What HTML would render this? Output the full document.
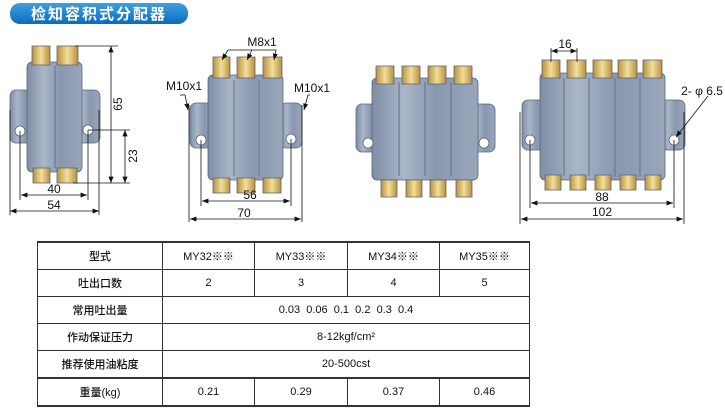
<!DOCTYPE html>
<html><head><meta charset="utf-8"><style>
body{margin:0;width:725px;height:413px;background:#fff;overflow:hidden;position:relative;font-family:"Liberation Sans","Noto Sans CJK SC",sans-serif}
svg{position:absolute;left:0;top:0}
table{position:absolute;left:37px;top:241px;border-collapse:collapse;font-size:11px;color:#111;font-weight:500}
td{border:1px solid #333;text-align:center;padding:0;height:26px}
</style></head><body>
<svg width="725" height="413" viewBox="0 0 725 413">
<defs>
<linearGradient id="pill" x1="0" y1="0" x2="0" y2="1"><stop offset="0" stop-color="#3ea0e0"/><stop offset="1" stop-color="#0a6cc0"/></linearGradient>
<linearGradient id="body" x1="0" y1="0" x2="1" y2="0"><stop offset="0" stop-color="#7f8ea6"/><stop offset=".3" stop-color="#aab6c8"/><stop offset=".6" stop-color="#8898b0"/><stop offset="1" stop-color="#9aa6ba"/></linearGradient>
<linearGradient id="brass" x1="0" y1="0" x2="1" y2="0"><stop offset="0" stop-color="#b89040"/><stop offset=".5" stop-color="#f2df98"/><stop offset="1" stop-color="#b89040"/></linearGradient>
<marker id="a" viewBox="0 0 10 10" refX="10" refY="5" markerWidth="8" markerHeight="8" orient="auto-start-reverse"><path d="M0,1 L10,5 L0,9z" fill="#111"/></marker>
</defs>
<rect x="10" y="3" width="178" height="21" rx="10" fill="url(#pill)"/>
<text x="99" y="19" fill="#fff" font-size="15" font-weight="bold" text-anchor="middle" letter-spacing="2">检知容积式分配器</text>

<g stroke="#5a6678" stroke-width=".8">
<rect x="10" y="90" width="25" height="53" rx="6" fill="url(#body)"/>
<rect x="75" y="90" width="25" height="53" rx="6" fill="url(#body)"/>
<rect x="27" y="62" width="55" height="110" rx="5" fill="url(#body)"/>
<rect x="32" y="46" width="18" height="19" fill="url(#brass)"/><rect x="57" y="46" width="21" height="19" fill="url(#brass)"/>
<rect x="33" y="168" width="17" height="15" fill="url(#brass)"/><rect x="57" y="168" width="20" height="15" fill="url(#brass)"/>
<circle cx="20" cy="131" r="5" fill="#fff"/><circle cx="88" cy="130" r="5" fill="#fff"/>
<rect x="190" y="103" width="24" height="45" rx="6" fill="url(#body)"/>
<rect x="280" y="103" width="22" height="45" rx="6" fill="url(#body)"/>
<rect x="208" y="75" width="75" height="105" rx="5" fill="url(#body)"/>
<rect x="213" y="57" width="17" height="21" fill="url(#brass)"/><rect x="237" y="57" width="18" height="21" fill="url(#brass)"/><rect x="263" y="57" width="19" height="21" fill="url(#brass)"/>
<rect x="213" y="178" width="17" height="15" fill="url(#brass)"/><rect x="237" y="178" width="18" height="15" fill="url(#brass)"/><rect x="263" y="178" width="18" height="15" fill="url(#brass)"/>
<circle cx="201" cy="140" r="5" fill="#fff"/><circle cx="291" cy="139" r="5" fill="#fff"/>
<rect x="356" y="104" width="24" height="48" rx="6" fill="url(#body)"/>
<rect x="470" y="104" width="25" height="48" rx="6" fill="url(#body)"/>
<rect x="372" y="78" width="106" height="102" rx="5" fill="url(#body)"/>
<rect x="376" y="66" width="18" height="18" fill="url(#brass)"/><rect x="402" y="66" width="18" height="18" fill="url(#brass)"/><rect x="428" y="66" width="18" height="18" fill="url(#brass)"/><rect x="454" y="66" width="18" height="18" fill="url(#brass)"/>
<rect x="381" y="180" width="16" height="17" fill="url(#brass)"/><rect x="406" y="180" width="16" height="17" fill="url(#brass)"/><rect x="430" y="180" width="16" height="17" fill="url(#brass)"/><rect x="456" y="180" width="16" height="17" fill="url(#brass)"/>
<circle cx="368" cy="143" r="5" fill="#fff"/><circle cx="484" cy="143" r="5" fill="#fff"/>
<rect x="522" y="100" width="25" height="50" rx="6" fill="url(#body)"/>
<rect x="661" y="100" width="24" height="50" rx="6" fill="url(#body)"/>
<rect x="540" y="73" width="125" height="107" rx="5" fill="url(#body)"/>
<rect x="542" y="60" width="18" height="18" fill="url(#brass)"/><rect x="567" y="60" width="19" height="18" fill="url(#brass)"/><rect x="593" y="60" width="19" height="18" fill="url(#brass)"/><rect x="618" y="60" width="19" height="18" fill="url(#brass)"/><rect x="643" y="60" width="19" height="18" fill="url(#brass)"/>
<rect x="545" y="175" width="16" height="15" fill="url(#brass)"/><rect x="570" y="175" width="16" height="15" fill="url(#brass)"/><rect x="595" y="175" width="16" height="15" fill="url(#brass)"/><rect x="620" y="175" width="16" height="15" fill="url(#brass)"/><rect x="645" y="175" width="16" height="15" fill="url(#brass)"/>
<circle cx="530" cy="140" r="5" fill="#fff"/><circle cx="674" cy="140" r="5" fill="#fff"/>
</g>
<g stroke="#6d7a90" stroke-width="1.2">
<line x1="55" y1="66" x2="55" y2="168"/>
<line x1="234" y1="80" x2="234" y2="176"/><line x1="259" y1="80" x2="259" y2="176"/>
<line x1="399" y1="82" x2="399" y2="176"/><line x1="425" y1="82" x2="425" y2="176"/><line x1="451" y1="82" x2="451" y2="176"/>
<line x1="564" y1="78" x2="564" y2="176"/><line x1="589" y1="78" x2="589" y2="176"/><line x1="615" y1="78" x2="615" y2="176"/><line x1="640" y1="78" x2="640" y2="176"/>
</g>

<g stroke="#111" stroke-width=".8" fill="none">
<line x1="75" y1="46" x2="118" y2="46"/><line x1="111" y1="46" x2="111" y2="183" marker-start="url(#a)" marker-end="url(#a)"/>
<line x1="88" y1="130" x2="130" y2="130"/><line x1="125" y1="130" x2="125" y2="183" marker-start="url(#a)" marker-end="url(#a)"/>
<line x1="73" y1="183" x2="130" y2="183"/>
<line x1="20" y1="131" x2="20" y2="200"/><line x1="88" y1="130" x2="88" y2="200"/>
<line x1="10" y1="110" x2="10" y2="215"/><line x1="99" y1="110" x2="99" y2="215"/>
<line x1="21" y1="195" x2="87" y2="195" marker-start="url(#a)" marker-end="url(#a)"/>
<line x1="10" y1="211" x2="99" y2="211" marker-start="url(#a)" marker-end="url(#a)"/>
<line x1="201" y1="140" x2="201" y2="206"/><line x1="291" y1="139" x2="291" y2="206"/>
<line x1="189" y1="105" x2="189" y2="222"/><line x1="302" y1="105" x2="302" y2="222"/>
<line x1="202" y1="201" x2="290" y2="201" marker-start="url(#a)" marker-end="url(#a)"/>
<line x1="190" y1="219" x2="301" y2="219" marker-start="url(#a)" marker-end="url(#a)"/>
<polyline points="228,50 276,50 274,60" marker-end="url(#a)"/>
<line x1="228" y1="50" x2="222" y2="60" marker-end="url(#a)"/>
<line x1="252" y1="50" x2="247" y2="60" marker-end="url(#a)"/>
<polyline points="180,95 185,95 188,110" marker-end="url(#a)"/>
<polyline points="310,95 308,95 304,110" marker-end="url(#a)"/>
<line x1="551" y1="48" x2="551" y2="62"/><line x1="577" y1="48" x2="577" y2="62"/>
<line x1="551" y1="51" x2="577" y2="51" marker-start="url(#a)" marker-end="url(#a)"/>
<line x1="530" y1="140" x2="530" y2="208"/><line x1="674" y1="140" x2="674" y2="208"/>
<line x1="520" y1="112" x2="520" y2="224"/><line x1="684" y1="112" x2="684" y2="224"/>
<line x1="531" y1="203" x2="673" y2="203" marker-start="url(#a)" marker-end="url(#a)"/>
<line x1="521" y1="219" x2="683" y2="219" marker-start="url(#a)" marker-end="url(#a)"/>
<line x1="708" y1="96" x2="676" y2="137" marker-end="url(#a)"/>
</g>
<g font-size="12" fill="#111" text-anchor="middle">
<text x="122" y="104" transform="rotate(-90 122 104)">65</text>
<text x="137" y="156" transform="rotate(-90 137 156)">23</text>
<text x="54" y="193">40</text><text x="54" y="209">54</text>
<text x="250" y="199">56</text><text x="244" y="217">70</text>
<text x="262" y="46">M8x1</text>
<text x="184" y="90">M10x1</text><text x="312" y="92">M10x1</text>
<text x="565" y="48">16</text>
<text x="702" y="95">2- φ 6.5</text>
<text x="602" y="201">88</text><text x="602" y="216">102</text>
</g>
</svg>
<table>
<tr style="border-top:2px solid #333"><td style="width:124px">型式</td><td style="width:91px">MY32※※</td><td style="width:92px">MY33※※</td><td style="width:91px">MY34※※</td><td style="width:89px">MY35※※</td></tr>
<tr><td>吐出口数</td><td>2</td><td>3</td><td>4</td><td>5</td></tr>
<tr><td>常用吐出量</td><td colspan="4">0.03&nbsp; 0.06&nbsp; 0.1&nbsp; 0.2&nbsp; 0.3&nbsp; 0.4</td></tr>
<tr><td>作动保证压力</td><td colspan="4">8-12kgf/cm²</td></tr>
<tr><td>推荐使用油粘度</td><td colspan="4">20-500cst</td></tr>
<tr style="border-top:2px solid #333;border-bottom:2px solid #333"><td>重量(kg)</td><td>0.21</td><td>0.29</td><td>0.37</td><td>0.46</td></tr>
</table>
</body></html>
